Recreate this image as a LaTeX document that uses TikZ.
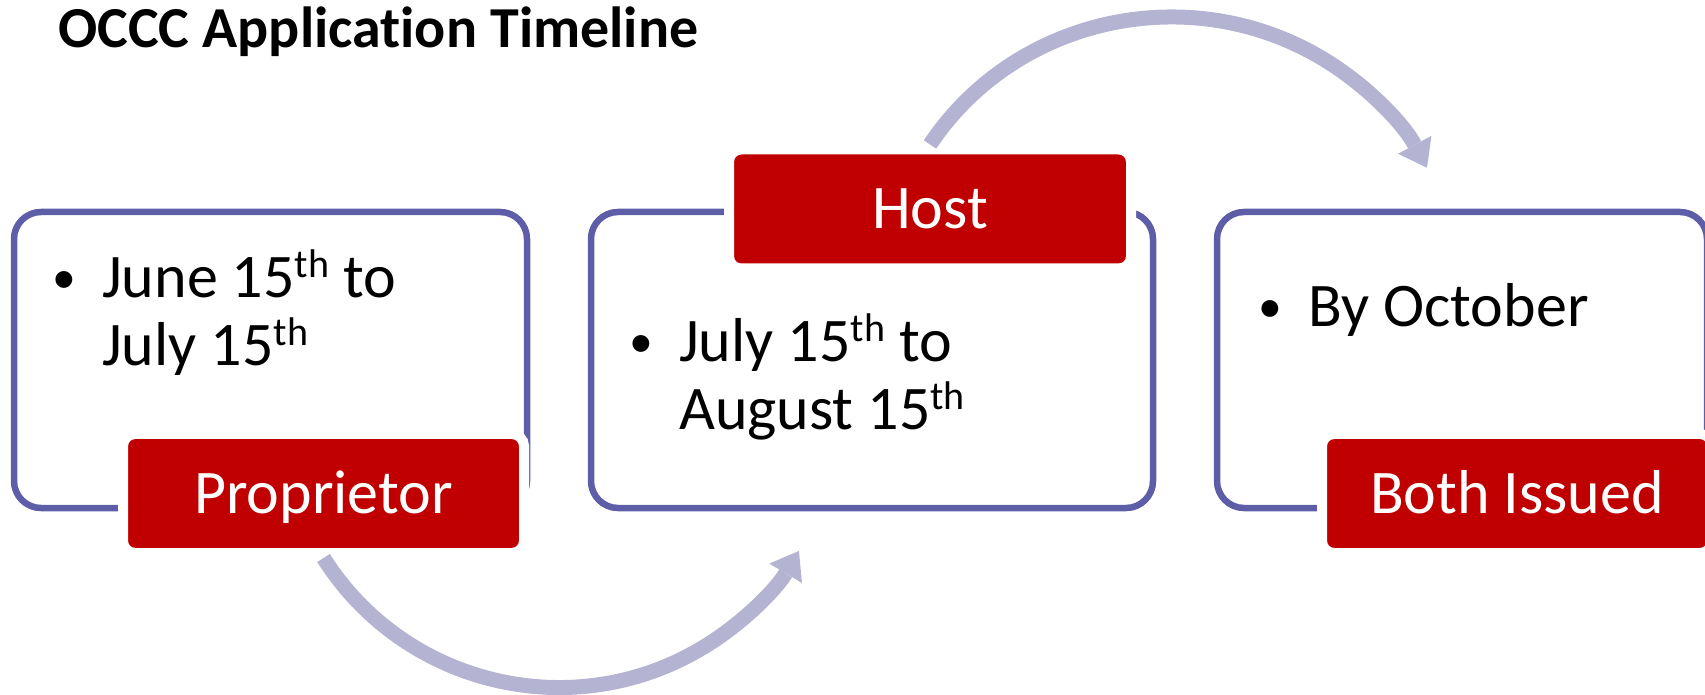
\documentclass[tikz,border=0pt]{standalone}
\usepackage{fontspec}
\setmainfont{Carlito}[Ligatures=NoCommon]
\newfontfamily\bulletfont{Liberation Sans}
\usetikzlibrary{arrows.meta}

\definecolor{panelblue}{RGB}{94,94,168}
\definecolor{tagred}{RGB}{192,0,0}
\definecolor{flowlav}{RGB}{180,180,210}

\newcommand{\bodyfont}{\fontsize{62}{66}\selectfont}
\newcommand{\sups}[1]{\raisebox{20pt}{\fontsize{40}{40}\selectfont #1}}
\newcommand{\itembullet}{\llap{\bulletfont\raisebox{-3pt}{\textbullet}\hspace{27pt}}}

\tikzset{
  panel/.style={draw=panelblue, line width=6.5pt, rounded corners=27pt, inner sep=0pt, minimum height=296pt},
  tag/.style={fill=tagred, draw=white, line width=10pt, rounded corners=12pt, text=white, inner sep=0pt,
    minimum height=119pt, text height=39pt, text depth=0pt, font=\bodyfont},
  bodytext/.style={anchor=base west, inner sep=0pt, font=\bodyfont},
  flowarrow/.style={draw=flowlav, line width=15pt, -{Triangle[width=38pt,length=26pt,line width=0pt]}}
}

\begin{document}
\begin{tikzpicture}[x=1pt,y=1pt]
    \useasboundingbox (0,0) rectangle (1705,694);
    % title
    \node[anchor=base west, inner sep=0pt, font=\fontsize{58}{66}\selectfont\bfseries] (title) at (58,646) {OCCC Application Timeline};
    % rounded panels
    \node[panel, minimum width=513pt] (box1) at (270.5,334) {};
    \node[panel, minimum width=562pt] (box2) at (872,334) {};
    \node[panel, minimum width=490pt] (box3) at (1462,334) {};
    % bullet text
    \node[bodytext] (txt1) at (102,396) {\itembullet\begin{tabular}[t]{@{}l@{}}June 15\sups{th} to\\July 15\sups{th}\end{tabular}};
    \node[bodytext] (txt2) at (679,332) {\itembullet\begin{tabular}[t]{@{}l@{}}July 15\sups{th} to\\August 15\sups{th}\end{tabular}};
    \node[bodytext] (txt3) at (1308,367) {\itembullet By October};
    % red labels
    \node[tag, minimum width=401pt] (prop) at (323.5,200.5) {Proprietor};
    \node[tag, minimum width=402pt] (host) at (930,485) {Host};
    \node[tag, minimum width=390pt] (both) at (1517,200.5) {Both Issued};
    % arrows
    \draw[flowarrow] (prop.south) arc[start angle=212.4, end angle=329.3, radius=279];
    \draw[flowarrow] (host.north) arc[start angle=147, end angle=27.5, x radius=288, y radius=280];
\end{tikzpicture}
\end{document}
